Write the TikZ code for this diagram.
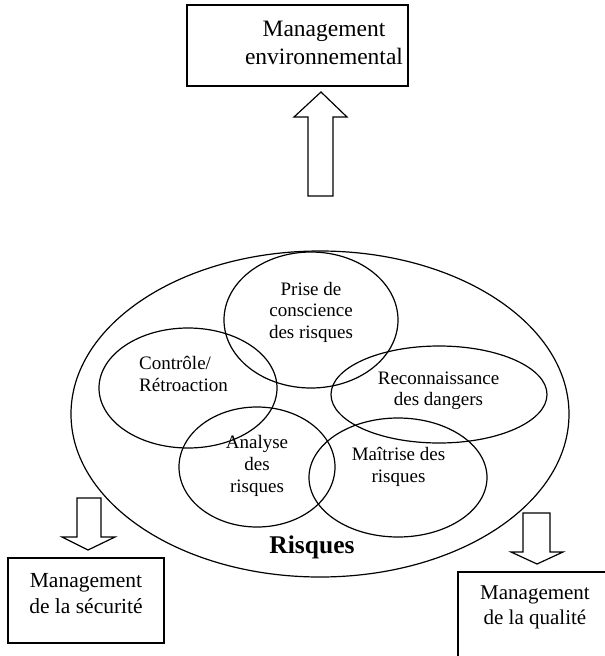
\documentclass[tikz,border=0pt]{standalone}
\usepackage{fontspec}
\setmainfont{Liberation Serif}
\usetikzlibrary{shapes.geometric}
\begin{document}
\begin{tikzpicture}[x=1pt,y=-1pt,
  lw/.style={line width=1.2pt},
  boxstyle/.style={draw,lw,rectangle},
  ell/.style={draw,lw,ellipse,inner sep=0pt},
  small/.style={font=\fontsize{19}{21.5}\selectfont,inner sep=0pt,anchor=base,align=center},
  blockarrow/.style={draw,lw,fill=white,line join=miter}]
\useasboundingbox (0,0) rectangle (605,656);
\clip (0,0) rectangle (605,656);
\fill[white] (0,0) rectangle (605,656);
% top box
\draw[boxstyle] (187,5) rectangle (408,86);
\node[inner sep=0pt,anchor=base,align=center,font=\fontsize{23.5}{28}\selectfont] (env) at (324,64) {Management\\environnemental};
% top arrow
\draw[blockarrow] (308,196) -- (308,117) -- (294,117) -- (321,92) -- (347,117) -- (333,117) -- (333,196) -- cycle;
% big ellipse
\node[ell,minimum width=498pt,minimum height=326pt] (big) at (320,414) {};
% small ellipses
\node[ell,minimum width=174pt,minimum height=136pt] (prise) at (311,320) {};
\node[ell,minimum width=178pt,minimum height=120pt] (ctrl) at (188,388) {};
\node[ell,minimum width=216pt,minimum height=97pt] (recon) at (439,394.5) {};
\node[ell,minimum width=156pt,minimum height=120pt] (anal) at (257,467) {};
\node[ell,minimum width=178pt,minimum height=119pt] (mait) at (398,477.5) {};
% texts
\node[small] (tprise) at (311,338) {Prise de\\conscience\\des risques};
\node[small,align=left,anchor=base west] (tctrl) at (139,391) {Contr\^ole/\\R\'etroaction};
\node[small,font=\fontsize{19}{20.5}\selectfont] (trecon) at (438.5,405) {Reconnaissance\\des dangers};
\node[small,font=\fontsize{19}{22}\selectfont] (tanal) at (257,492) {Analyse\\des\\risques};
\node[small,font=\fontsize{19}{22}\selectfont] (tmait) at (398.5,482) {Ma\^itrise des\\risques};
\node[inner sep=0pt,anchor=base,font=\fontsize{25.5}{28}\selectfont\bfseries] (risq) at (312,553) {Risques};
% bottom left
\draw[blockarrow] (77,498) -- (101,498) -- (101,537) -- (115,537) -- (88,550) -- (62,537) -- (77,537) -- cycle;
\draw[boxstyle] (8,558) rectangle (164,643);
\node[inner sep=0pt,anchor=base,align=center,font=\fontsize{21.5}{26}\selectfont] (secu) at (86,613) {Management\\de la s\'ecurit\'e};
% bottom right
\draw[blockarrow] (523,513) -- (550,513) -- (550,552) -- (563,552) -- (537,564) -- (511,552) -- (523,552) -- cycle;
\draw[boxstyle] (458,672) -- (458,572) -- (620,572);
\node[inner sep=0pt,anchor=base,align=center,font=\fontsize{21}{25}\selectfont] (qual) at (535,624) {Management\\de la qualit\'e};
\end{tikzpicture}
\end{document}
